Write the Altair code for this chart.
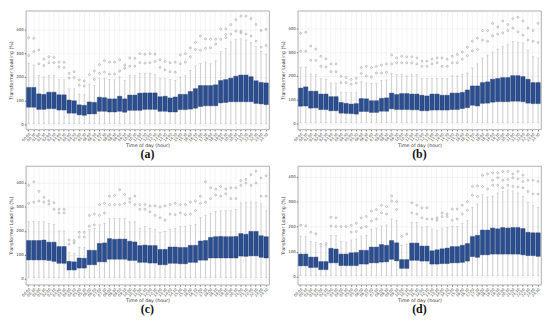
import altair as alt
import pandas as pd

times = ["00:00","00:30","01:00","01:30","02:00","02:30","03:00","03:30",
         "04:00","04:30","05:00","05:30","06:00","06:30","07:00","07:30",
         "08:00","08:30","09:00","09:30","10:00","10:30","11:00","11:30",
         "12:00","12:30","13:00","13:30","14:00","14:30","15:00","15:30",
         "16:00","16:30","17:00","17:30","18:00","18:30","19:00","19:30",
         "20:00","20:30","21:00","21:30","22:00","22:30","23:00","23:30"]

lo_all = [5, 5, 5, 5, 5, 5, 5, 5, 5, 5, 5, 5, 5, 5, 5, 5, 5, 5, 5, 5, 5, 5, 5, 5,
          5, 5, 5, 5, 5, 5, 5, 5, 5, 5, 5, 5, 5, 5, 5, 5, 5, 5, 5, 5, 5, 5, 5, 5]

# ---- panel (a)
a_q1 = [73,73,64,64,67,67,61,61,48,48,41,39,45,45,56,56,53,53,56,52,60,60,60,64,
        64,64,56,56,53,53,63,63,65,69,76,79,79,79,91,93,96,96,96,96,96,89,87,84]
a_q3 = [156,156,129,127,136,136,125,125,103,100,83,81,95,93,115,113,108,108,119,108,124,124,132,133,
        133,133,117,119,112,116,127,127,139,151,164,164,164,167,185,189,195,203,208,208,201,184,177,175]
a_hi = [256,250,207,200,205,205,188,188,150,150,128,125,170,165,193,195,190,188,200,185,205,205,215,215,
        215,210,195,193,190,185,200,205,228,247,256,262,255,268,307,320,347,358,360,355,345,328,308,295]
a_out = [[290,365],[307,362],[255,313],[248,275],[260,285],[260,282],[243,262],[240,262],
         [195,215],[198,222],[165,188],[162,183],[210],[190,225],[215,252],[220,268],
         [212,262],[212,262],[225,272],[237,250],[245,280],[245,278],[260,298],[258,295],
         [260,298],[265,296],[240,272],[230,265],[222,260],[220,262],[255,293],[262,298],
         [285,322],[315,345],[312,372],[320,360],[322,358],[338,358],[358,402],[365,378,402],
         [380,420],[392,440],[385,392,455],[380,455],[372,445],[350,420],[325,395],[332,400]]

# ---- panel (b)
b_q1 = [73,74,65,66,59,59,54,54,44,43,42,40,51,51,47,47,52,52,62,59,59,59,58,58,
        54,54,57,57,57,57,59,59,63,67,77,74,85,86,90,92,92,92,94,94,92,86,84,84]
b_q3 = [149,154,136,136,124,124,113,113,89,85,82,84,105,104,96,96,106,108,128,122,126,126,124,124,
        119,116,124,124,119,119,128,128,131,141,158,158,172,175,186,189,193,193,201,201,197,186,172,172]
b_hi = [236,237,208,205,188,185,170,170,130,130,130,130,175,170,168,168,180,183,210,205,205,200,205,205,
        190,190,190,190,190,190,200,200,205,212,233,250,275,287,300,312,322,330,345,340,338,307,280,275]
b_out = [[303,378],[303,383],[265,325],[265,312],[240,282],[238,272],[218,250],[218,250],
         [172,198],[172,193],[165,185],[170,190],[210,235],[200,240],[195,235],[212,240],
         [212,245],[215,250],[250,288],[255,275],[255,282],[255,280],[255,280],[250,275],
         [240,262],[240,262],[250,270],[255,275],[240,275],[240,270],[255,282],[255,290],
         [270,300],[285,320],[305,345],[310,358],[350,390],[345,390],[368,420],[375,405],
         [380,430],[390,415],[400,440],[385,445],[370,430],[350,400],[345,390],[340,420]]

# ---- panel (c)
c_q1 = [79,79,79,79,77,73,65,65,37,37,45,45,59,59,71,71,82,82,82,82,77,77,69,69,
        66,66,59,59,65,65,63,63,69,69,78,78,87,87,87,87,87,87,95,94,96,96,90,87]
c_q3 = [160,160,160,162,153,153,135,135,73,71,87,86,119,119,148,150,168,165,166,166,157,154,139,141,
        139,139,123,123,133,133,131,131,140,140,158,160,173,176,177,176,176,177,189,186,198,198,180,176]
c_hi = [238,240,238,238,231,227,200,200,110,105,132,132,205,211,225,231,251,251,251,251,238,238,211,218,
        211,205,194,198,207,211,218,220,224,227,255,264,273,281,284,284,284,290,317,320,321,320,313,284]
c_out = [[315,390],[320,405],[325,365],[320,340],[312,325],[290,318],[275,290],[275,290],
         [145,162],[150,160],[175,194],[175,194],[220,265],[225,270],[265,310],[275,315],
         [310,345],[310,348],[310,372],[315,352],[320,335],[310,345],[290,310],[290,310],
         [280,305],[265,305],[255,300],[245,305],[270,310],[268,315],[275,310],[268,310],
         [270,320],[285,325],[315,345],[320,405],[335,380],[350,375],[345,385],[355,375],
         [335,380],[335,380],[390,410],[400,415],[390,435],[400,450],[345,420],[345,430]]

# ---- panel (d)
d_q1 = [43,43,36,37,28,28,55,55,44,44,44,44,50,50,55,55,58,59,69,63,33,33,65,65,
        62,62,50,50,52,52,55,55,57,62,80,77,87,87,90,90,90,90,90,90,87,84,84,81]
d_q3 = [90,90,78,78,60,60,113,110,90,90,95,96,105,105,118,118,128,125,144,135,68,68,134,134,
        122,122,103,107,111,114,120,120,125,132,160,165,186,186,194,191,196,194,196,196,192,177,175,175]
d_hi = [162,159,140,136,121,125,165,165,140,138,146,150,162,165,190,194,202,206,230,225,125,130,215,217,
        196,200,190,184,194,196,202,200,212,224,277,290,327,318,321,334,340,346,342,334,321,296,284,277]
d_out = [[205],[203],[177],[171],[129],[132],[202,237],[200,235],
         [200],[200],[178,205],[180,213],[195,235],[200,240],[222,262],[230,268],
         [255,285],[250,280],[302,322],[268,300],[160],[170],[255,295],[250,285],
         [235,275],[230,275],[230],[225,235],[240,255],[240,250],[225,270],[230,270],
         [250,285],[265,300],[325,360],[320,362],[360,405],[350,410],[365,385,415],[365,395,415],
         [355,385,420],[365,388,420],[360,395,410],[358,390,420],[355,380,405],[340,385],[330,385],[330,380]]

y_domains = {"a": [-20, 478], "b": [-24, 473], "c": [-24, 471], "d": [-32, 442]}
y_ticks = [0, 100, 200, 300, 400]

W, H = 246, 120
BOX = "#2b4e90"
YT = "Transformer Loading (%)"


def panel(q1, q3, hi, outs, key):
    box = pd.DataFrame({"t": times, "q1": q1, "q3": q3, "lo": lo_all, "hi": hi})
    pts = pd.DataFrame([{"t": t, "v": v} for t, vs in zip(times, outs) for v in vs])
    x = alt.X("t:N", sort=times, title="Time of day (hour)",
              scale=alt.Scale(paddingInner=0.15, paddingOuter=0.15),
              axis=alt.Axis(labelAngle=315, labelFontSize=3.6, titleFontSize=4.8,
                            titleFontWeight="normal", titlePadding=1, labelPadding=1,
                            tickSize=1.5, grid=True, bandPosition=0.5, domain=False))
    ysc = alt.Scale(domain=y_domains[key], nice=False, zero=False)
    yax = alt.Axis(values=y_ticks, labelFontSize=4, titleFontSize=4.8, titleFontWeight="normal",
                   titlePadding=2, labelPadding=1, tickSize=1.5, domain=False)
    whisk = alt.Chart(box).mark_rule(color="#b5b5b5", strokeWidth=0.6).encode(
        x=x, y=alt.Y("lo:Q", scale=ysc, axis=yax, title=YT), y2="hi:Q")
    cap_hi = alt.Chart(box).mark_tick(color="#b5b5b5", thickness=0.6, size=2.5).encode(
        x=x, y=alt.Y("hi:Q", scale=ysc, axis=yax, title=YT))
    cap_lo = alt.Chart(box).mark_tick(color="#b5b5b5", thickness=0.6, size=2.5).encode(
        x=x, y=alt.Y("lo:Q", scale=ysc, axis=yax, title=YT))
    bars = alt.Chart(box).mark_bar(color=BOX, stroke="#22386c", strokeWidth=0.4).encode(
        x=x, y=alt.Y("q1:Q", scale=ysc, axis=yax, title=YT), y2="q3:Q")
    dots = alt.Chart(pts).mark_point(shape="circle", size=4, filled=False, color="#8f8f8f",
                                     strokeWidth=0.5, opacity=1).encode(
        x=x, y=alt.Y("v:Q", scale=ysc, axis=yax, title=YT))
    return alt.layer(whisk, cap_hi, cap_lo, bars, dots).properties(
        width=W, height=H,
        title=alt.TitleParams("(" + key + ")", orient="bottom", font="Liberation Serif",
                              fontSize=12, fontWeight="bold", color="#111111", offset=2))


top = alt.hconcat(panel(a_q1, a_q3, a_hi, a_out, "a"),
                  panel(b_q1, b_q3, b_hi, b_out, "b"), spacing=10)
bottom = alt.hconcat(panel(c_q1, c_q3, c_hi, c_out, "c"),
                     panel(d_q1, d_q3, d_hi, d_out, "d"), spacing=10)

chart = alt.vconcat(top, bottom, spacing=4).properties(
    padding={"left": 0, "top": 0, "right": 0, "bottom": 0}, background="white"
).configure_view(stroke="#9a9a9a", strokeWidth=0.8).configure_axis(
    gridColor="#e9e9e9", gridWidth=0.5, labelColor="#333333", titleColor="#333333",
    tickColor="#777777", labelFont="DejaVu Sans", titleFont="DejaVu Sans"
)

chart.save("out.html", embed_options={"renderer": "svg", "actions": False})
